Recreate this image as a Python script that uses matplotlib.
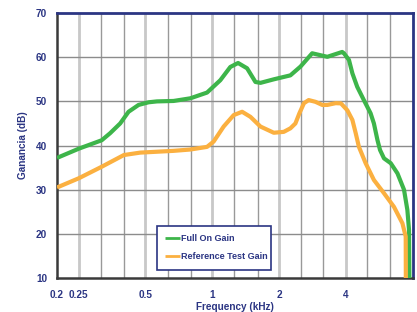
import matplotlib
matplotlib.use("Agg")
import matplotlib.pyplot as plt
from matplotlib.ticker import FixedLocator, NullFormatter

plt.rcParams["font.family"] = ["Liberation Sans", "DejaVu Sans"]

# data (kHz, dB)
full_on_freq = [0.2, 0.251, 0.318, 0.347, 0.385, 0.42, 0.466, 0.517, 0.564, 0.67,
                0.797, 0.948, 1.088, 1.207, 1.308, 1.436, 1.566, 1.65, 1.894, 2.25,
                2.50, 2.82, 3.30, 3.85, 3.92, 4.13, 4.28, 4.50, 4.82, 5.17,
                5.35, 5.55, 5.70, 5.94, 6.37, 6.83, 7.31, 7.57, 7.70, 7.73]
full_on_gain = [37.2, 39.3, 41.2, 42.8, 45.0, 47.65, 49.2, 49.8, 50.0, 50.1,
                50.7, 52.0, 54.8, 57.8, 58.7, 57.5, 54.4, 54.2, 55.0, 55.9,
                57.9, 60.9, 60.1, 61.2, 60.9, 59.4, 56.35, 53.3, 50.3, 47.3,
                45.0, 41.25, 39.0, 37.1, 36.0, 33.7, 30.0, 25.4, 20.9, 10.0]

ref_freq = [0.2, 0.251, 0.318, 0.40, 0.474, 0.67, 0.797, 0.948, 1.015, 1.126,
            1.25, 1.364, 1.487, 1.65, 1.894, 2.10, 2.25, 2.37, 2.47, 2.59,
            2.72, 2.92, 3.13, 3.30, 3.60, 3.80, 4.06, 4.28, 4.43, 4.58,
            4.91, 5.35, 5.94, 6.59, 7.19, 7.44, 7.45]
ref_gain = [30.5, 32.6, 35.2, 37.85, 38.4, 38.8, 39.1, 39.7, 40.9, 44.3,
            46.9, 47.65, 46.5, 44.3, 42.9, 43.1, 43.9, 45.0, 47.3, 49.6,
            50.3, 49.9, 49.2, 49.2, 49.6, 49.55, 48.0, 45.8, 42.8, 39.7,
            36.0, 32.2, 29.2, 26.1, 22.4, 19.4, 10.0]

x_labels = [0.2, 0.25, 0.5, 1, 2, 4]
x_label_text = ["0.2", "0.25", "0.5", "1", "2", "4"]
third_octave = [0.315, 0.4, 0.63, 0.8, 1.25, 1.6, 2.5, 3.15, 5, 6.3]
y_ticks = [10, 20, 30, 40, 50, 60, 70]

navy = "#2b3583"
green = "#3db54a"
orange = "#fbb040"

fig = plt.figure(figsize=(4.17, 3.12), dpi=100)
ax = fig.add_axes([0.1367, 0.109, 0.853, 0.849])

ax.set_xscale("log")
ax.set_xlim(0.2, 8)
ax.set_ylim(10, 70)

# grid
for f in x_labels[1:]:
    ax.axvline(f, color="#c8c8c8", lw=2, zorder=1)
for f in third_octave:
    ax.axvline(f, color="#999999", lw=1, zorder=1)
for g in y_ticks[1:-1]:
    ax.axhline(g, color="#8c8c8c", lw=1, zorder=1)

ax.plot(full_on_freq, full_on_gain, color=green, lw=3, solid_joinstyle="round",
        solid_capstyle="butt", label="Full On Gain", zorder=3)
ax.plot(ref_freq, ref_gain, color=orange, lw=3, solid_joinstyle="round",
        solid_capstyle="butt", label="Reference Test Gain", zorder=3)

ax.xaxis.set_major_locator(FixedLocator(x_labels))
ax.set_xticklabels(x_label_text)
ax.xaxis.set_minor_locator(FixedLocator([]))
ax.xaxis.set_minor_formatter(NullFormatter())
ax.set_yticks(y_ticks)
ax.tick_params(axis="both", length=0, labelsize=7.2, labelcolor=navy)
ax.tick_params(axis="x", pad=9)
ax.tick_params(axis="y", pad=7)
for lab in ax.get_xticklabels() + ax.get_yticklabels():
    lab.set_fontweight("bold")

ax.set_xlabel("Frequency (kHz)", fontsize=7.2, color=navy, fontweight="bold", labelpad=1)
ax.set_ylabel("Ganancia (dB)", fontsize=7.2, color=navy, fontweight="bold", labelpad=6)

for side in ["top", "right"]:
    ax.spines[side].set_color(navy)
    ax.spines[side].set_linewidth(2)
for side in ["left", "bottom"]:
    ax.spines[side].set_color("#3a3a3a")
    ax.spines[side].set_linewidth(1.8)

leg = ax.legend(loc="lower left", bbox_to_anchor=(0.269, 0.015, 0.344, 0.14),
                mode="expand", fancybox=False, framealpha=1, edgecolor=navy,
                fontsize=6.5, handlelength=1.6, handletextpad=0.1,
                borderpad=0.9, labelspacing=1.0)
leg.get_frame().set_linewidth(1.2)
for t in leg.get_texts():
    t.set_color(navy)
    t.set_fontweight("bold")
for h in leg.get_lines():
    h.set_linewidth(2)

fig.savefig("out.png", dpi=100)
